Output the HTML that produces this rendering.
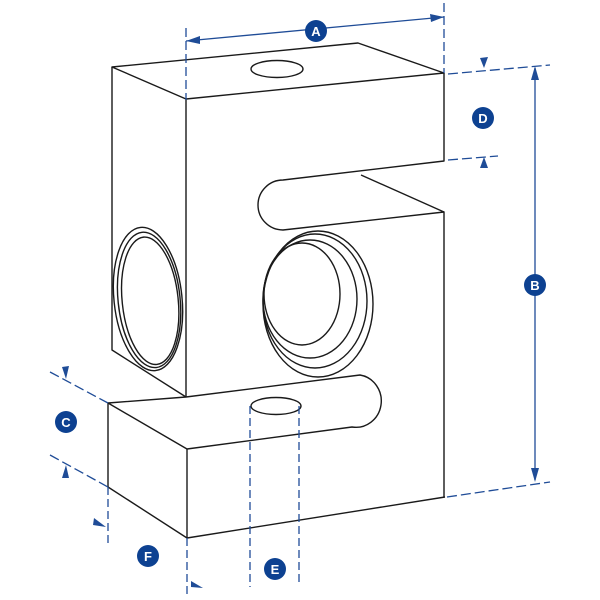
<!DOCTYPE html>
<html><head><meta charset="utf-8"><style>
html,body{margin:0;padding:0;background:#fff;width:600px;height:600px;overflow:hidden}
svg{display:block}
text{font-family:"Liberation Sans",sans-serif;font-weight:bold;font-size:13px;fill:#fff}
</style></head><body>
<svg width="600" height="600" viewBox="0 0 600 600" xmlns="http://www.w3.org/2000/svg">
<g fill="none" stroke="#1a1a1a" stroke-width="1.4" stroke-linejoin="round">
<!-- top face -->
<path d="M112,67 L358,43 L444,73 L186,99 Z"/>
<ellipse cx="277" cy="69" rx="26" ry="8.5"/>
<!-- front face upper -->
<path d="M186,99 L186,397"/>
<path d="M444,73 L444,161 L283,180 A25,25 0 0 0 283,230 L444,212 L444,497"/>
<path d="M361,175 L444,212"/>
<!-- left face -->
<path d="M112,67 L112,350 L186,397"/>
<g transform="rotate(-6 148 299)">
<ellipse cx="148" cy="299" rx="34" ry="72"/>
<ellipse cx="149" cy="300" rx="31" ry="68"/>
<ellipse cx="150" cy="301" rx="28" ry="64"/>
</g>
<!-- front hole -->
<ellipse cx="318" cy="304" rx="55" ry="73"/>
<ellipse cx="315" cy="301" rx="52" ry="67"/>
<ellipse cx="310" cy="299" rx="47" ry="59"/>
<ellipse cx="302" cy="294" rx="38" ry="51"/>
<!-- lower block -->
<path d="M108,403 L186,397 L360,375 A25,26 0 0 1 352,427 L187,449 L108,403 Z"/>
<path d="M108,403 L108,487 L187,538 L445,497"/>
<path d="M187,449 L187,538"/>
<ellipse cx="276" cy="406" rx="25" ry="8.5"/>
</g>
<g fill="none" stroke="#1f4c97" stroke-width="1.3">
<!-- A -->
<path d="M186,41 L444,17"/>
<path d="M186,28 L186,100 M444,3 L444,73" stroke-dasharray="9,4"/>
<!-- D / B extension -->
<path d="M448,74 L550,65 M448,160 L498,156 M447,497 L550,482" stroke-dasharray="10,4"/>
<path d="M535,68 L535,480"/>
<!-- C -->
<path d="M50,372 L108,403 M50,455 L108,487" stroke-dasharray="10,4"/>
<!-- F -->
<path d="M108,487 L108,545 M187,538 L187,598" stroke-dasharray="8,4"/>
<!-- E -->
<path d="M250,406 L250,587 M299,406 L299,582" stroke-dasharray="8,4"/>
</g>
<g fill="#1f4c97">
<path d="M186,41 L200,36 L200,44 Z"/>
<path d="M444,17 L430,14 L431,22 Z"/>
<path d="M535,66 L531,80 L539,80 Z"/>
<path d="M535,482 L531,468 L539,468 Z"/>
<path d="M484,68 L480,58 L488,57 Z"/>
<path d="M484,157 L480,168 L488,168 Z"/>
<path d="M66,379 L62,367 L69,366 Z"/>
<path d="M66,465 L62,478 L69,478 Z"/>
<path d="M106,527 L94,518 L93,525 Z"/>
<path d="M203,588 L191,581 L191,587 Z"/>
</g>
<g fill="#0d4191">
<circle cx="316" cy="31" r="11"/>
<circle cx="483" cy="118" r="11"/>
<circle cx="535" cy="285" r="11"/>
<circle cx="66" cy="422" r="11"/>
<circle cx="148" cy="556" r="11"/>
<circle cx="275" cy="569" r="11"/>
</g>
<text x="316" y="36" text-anchor="middle">A</text>
<text x="483" y="123" text-anchor="middle">D</text>
<text x="535" y="290" text-anchor="middle">B</text>
<text x="66" y="427" text-anchor="middle">C</text>
<text x="148" y="561" text-anchor="middle">F</text>
<text x="275" y="574" text-anchor="middle">E</text>
</svg>
</body></html>
